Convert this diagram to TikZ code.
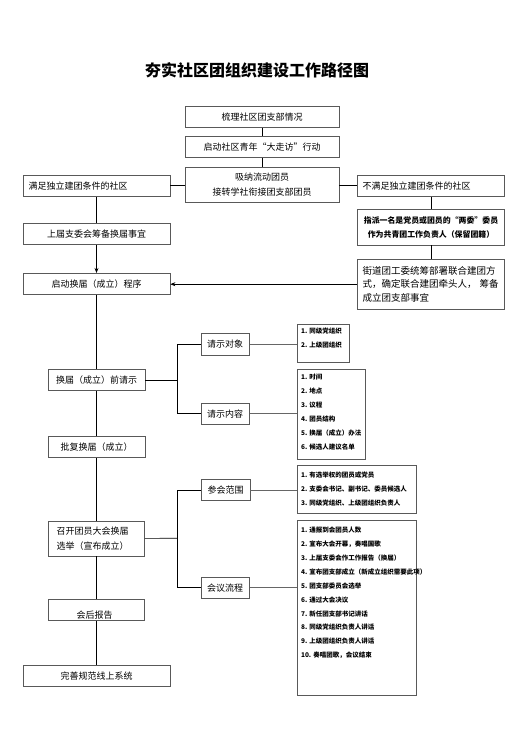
\documentclass[tikz,border=0pt]{standalone}
\usepackage{fontspec}
\setmainfont{Noto Sans CJK SC}
\usetikzlibrary{arrows.meta, positioning}

\begin{document}
\begin{tikzpicture}[
    x = 1pt, y = -1pt,
    box/.style = {rectangle, draw=black!65, line width=0.7pt,
        minimum height=21pt, inner sep=2pt, font=\fontsize{9}{15}\selectfont},
    lst/.style = {rectangle, draw=black!65, line width=0.7pt, anchor=north west,
        inner xsep=4pt, inner ysep=3pt, align=left,% items
        font=\fontsize{6.5}{14}\selectfont\bfseries},
    link/.style = {line width=0.7pt},
    sublink/.style = {line width=0.7pt, draw=black!60}
    ]
    \useasboundingbox (0,0) rectangle (513,735);
    %
    \node (title) [font=\fontsize{16}{16}\selectfont\bfseries] at (257,70.5) {夯实社区团组织建设工作路径图};
    % top column
    \node (sort) [box, minimum width=154pt] at (262,117) {梳理社区团支部情况};
    \node (visit) [box, minimum width=154pt] at (262,147) {启动社区青年“大走访”行动};
    \node (absorb) [box, minimum width=154pt, minimum height=35.4pt, align=center] at (262,185)
        {吸纳流动团员\\接转学社衔接团支部团员};
    % left column
    \node (yes) [box, text width=136pt, inner xsep=5.5pt, align=left] at (96.5,186.2) {满足独立建团条件的社区};
    \node (prep) [box, minimum width=147pt] at (96.5,233.8) {上届支委会筹备换届事宜};
    \node (start) [box, minimum width=147pt] at (96.5,283.8) {启动换届（成立）程序};
    \node (req) [box, minimum width=96.7pt] at (96.5,380) {换届（成立）前请示};
    \node (approve) [box, minimum width=96.7pt] at (96.5,447.3) {批复换届（成立）};
    \node (meet) [box, text width=80pt, inner xsep=8pt, minimum height=35pt, align=left] at (96.5,538.5)
        {召开团员大会换届\\选举（宣布成立）};
    \node (report) [box, minimum width=96pt] at (96.5,609.8) {};
    \node (reporttxt) [font=\fontsize{9}{9}\selectfont] at (94.5,615.5) {会后报告};
    \node (final) [box, minimum width=147pt] at (96.5,675.6) {完善规范线上系统};
    % right column
    \node (no) [box, text width=137pt, inner xsep=5pt, align=left] at (431,186.2) {不满足独立建团条件的社区};
    \node (assign) [box, minimum width=147pt, minimum height=35.7pt, align=center,
        font=\fontsize{7.9}{14}\selectfont\bfseries] at (431,227.2)
        {指派一名是党员或团员的“两委”委员\\作为共青团工作负责人（保留团籍）};
    \node (joint) [box, text width=137pt, inner xsep=5pt, minimum height=49.7pt, align=left,
        font=\fontsize{9.5}{13.8}\selectfont] at (431,284.2)
        {街道团工委统筹部署联合建团方\\式，确定联合建团牵头人， 筹备\\成立团支部事宜};
    % request branch
    \node (obj) [box, minimum width=48.3pt, minimum height=21.7pt] at (225.2,344.2) {请示对象};
    \node (cont) [box, minimum width=48.3pt] at (225.2,413.8) {请示内容};
    \node (objlist) [lst, text width=44.6pt, text height=6pt, text depth=26pt] at (296.7,324.3)
        {1.~同级党组织\\2.~上级团组织};
    \node (contlist) [lst, text width=60.3pt, text height=6.7pt, text depth=77pt] at (296.7,369.3)
        {1.~时间\\2.~地点\\3.~议程\\4.~团员结构\\5.~换届（成立）办法\\6.~候选人建议名单};
    % meeting branch
    \node (scope) [box, minimum width=49pt] at (225.5,490) {参会范围};
    \node (flow) [box, minimum width=48.3pt] at (225.2,587.8) {会议流程};
    \node (scopelist) [lst, text width=111pt, text height=9.3pt, text depth=33pt] at (296.7,465)
        {1.~有选举权的团员或党员\\2.~支委会书记、副书记、委员候选人\\3.~同级党组织、上级团组织负责人};
    \node (flowlist) [lst, text width=111pt, text height=9pt, text depth=159.7pt,
        font=\fontsize{6.5}{13.9}\selectfont\bfseries] at (296.7,520.3)
        {1.~通报到会团员人数\\2.~宣布大会开幕，奏唱国歌\\3.~上届支委会作工作报告（换届）\\%
         4.~宣布团支部成立（新成立组织需要此项）\\5.~团支部委员会选举\\6.~通过大会决议\\%
         7.~新任团支部书记讲话\\8.~同级党组织负责人讲话\\9.~上级团组织负责人讲话\\10.~奏唱团歌，会议结束};
    \coordinate (rfork) at (177.3,380);
    \coordinate (mfork) at (177.3,538.3);
    %
    \draw[link] (sort) -- (visit);
    \draw[link] (visit) -- (absorb);
    \draw[link] (absorb.west) -- (absorb.west -| yes.east);
    \draw[link] (absorb.east) -- (absorb.east -| no.west);
    \draw[link] (yes) -- (prep);
    \draw[link, -{Stealth[length=5pt, width=4pt]}] (prep) -- (start);
    \draw[link] (no) -- (assign);
    \draw[link] (assign) -- (joint);
    \draw[link, -{Stealth[length=5pt, width=4pt]}] (joint.west) -- (joint.west -| start.east);
    \draw[link] (start) -- (req);
    \draw[link] (req) -- (approve);
    \draw[link] (approve) -- (meet);
    \draw[link] (meet) -- (report);
    \draw[link] (report) -- (final);
    \draw[link] (req) -- (rfork);
    \draw[link] (obj.west) -| (rfork) |- (cont.west);
    \draw[sublink] (obj.east) -- (obj.east -| objlist.west);
    \draw[sublink] (cont.east) -- (cont.east -| contlist.west);
    \draw[link] (meet) -- (mfork);
    \draw[link] (scope.west) -| (mfork) |- (flow.west);
    \draw[sublink] (scope.east) -- (scope.east -| scopelist.west);
    \draw[sublink] (flow.east) -- (flow.east -| flowlist.west);
\end{tikzpicture}
\end{document}
